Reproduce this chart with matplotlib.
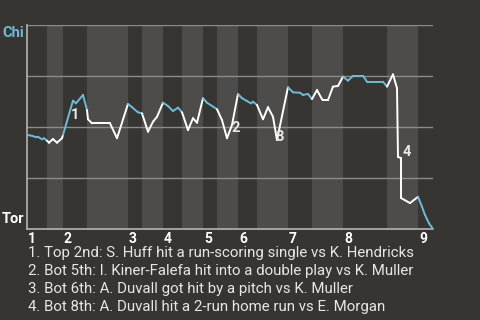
import matplotlib.pyplot as plt
import numpy as np

# game progress (arbitrary play units) and Chicago win probability (%)
progress = [0, 5, 9, 11, 15, 17, 20, 22, 26, 30, 35, 36, 46, 49, 56, 60,
            61, 65, 83, 90, 101, 105, 111, 115, 121, 126, 130, 136, 141, 146,
            151, 155, 161, 166, 170, 176, 180, 186, 190, 195, 200, 205, 211,
            215, 220, 224, 226, 230, 236, 241, 246, 250, 261, 266, 273, 276,
            281, 285, 290, 295, 296, 301, 306, 311, 316, 321, 326, 336, 340,
            356, 360, 366, 370, 371, 374, 374, 383, 391, 395, 398, 402, 406]
chi_wp = [46.1, 45.7, 45.0, 45.2, 44.0, 44.5, 43.3, 42.3, 44.1, 42.3, 44.5,
          46.1, 62.9, 61.6, 65.7, 58.3, 53.8, 51.8, 51.8, 44.5, 61.3, 59.7,
          57.2, 56.7, 47.7, 52.6, 55.0, 61.9, 60.3, 57.8, 59.5, 57.2, 48.5,
          54.3, 52.1, 64.1, 61.9, 60.0, 58.7, 53.4, 44.5, 51.0, 66.2, 64.1,
          62.7, 61.6, 62.4, 60.8, 53.8, 59.7, 55.0, 43.6, 69.5, 67.0, 66.8,
          65.7, 66.2, 63.7, 68.1, 63.6, 63.2, 63.2, 69.8, 70.1, 74.7, 72.7,
          75.1, 75.1, 72.2, 72.2, 69.8, 75.8, 69.0, 35.3, 34.8, 15.2, 12.7,
          15.8, 10.9, 6.9, 2.8, 0.0]

# half-inning boundaries (same units as progress)
half_starts = [0, 20, 36, 60, 101, 115, 136, 155, 176, 190, 211, 230, 261,
               285, 316, 360, 391, 406]
inning_labels = ['1', '2', '3', '4', '5', '6', '7', '8', '9']

# key plays: index into progress
key_idx = [12, 40, 51, 73]
key_text = ['1', '2', '3', '4']
notes = ["1. Top 2nd: S. Huff hit a run-scoring single vs K. Hendricks",
         "2. Bot 5th: I. Kiner-Falefa hit into a double play vs K. Muller",
         "3. Bot 6th: A. Duvall got hit by a pitch vs K. Muller",
         "4. Bot 8th: A. Duvall hit a 2-run home run vs E. Morgan"]

bg = '#373532'
band = '#4d4c4a'
blue = '#6cbcd8'

plt.rcParams['font.family'] = ['Roboto', 'DejaVu Sans']
fig = plt.figure(figsize=(4.8, 3.2), dpi=100, facecolor=bg)
ax = fig.add_axes([27 / 480, 1 - 229 / 320, 406 / 480, 204 / 320])
ax.set_facecolor(bg)

# alternating half-inning bands
for i in range(len(half_starts) - 1):
    if i % 2 == 1:
        ax.axvspan(half_starts[i], half_starts[i + 1], color=band, lw=0, zorder=0)

for g in [25, 50, 75, 100]:
    ax.axhline(g, color='#8c8b88', lw=1, zorder=1)

# line coloured by batting team (top halves blue = Chi)
x = np.array(progress, dtype=float)
y = np.array(chi_wp)
for k in range(len(x) - 1):
    mid = (x[k] + x[k + 1]) / 2
    half = np.searchsorted(half_starts, mid, side='right') - 1
    c = blue if half % 2 == 0 else 'white'
    ax.plot(x[k:k + 2], y[k:k + 2], color=c, lw=1.4, zorder=3,
            solid_capstyle='round')

offsets = [(1.5, -10), (6, 7), (2, 2), (6, 3.5)]
for idx, t, off in zip(key_idx, key_text, offsets):
    ax.annotate(t, (x[idx], y[idx]), xytext=off, textcoords='offset points',
                color='#e8e8e8', fontsize=10.5, fontweight='bold',
                ha='center', va='center', zorder=4)

ax.set_xlim(0, 406)
ax.set_ylim(0, 100)
ax.set_xticks([])
ax.set_yticks([])
for s in ['top', 'right']:
    ax.spines[s].set_visible(False)
for s in ['left', 'bottom']:
    ax.spines[s].set_color('#b5b4b0')
    ax.spines[s].set_linewidth(1.2)

for lab, pos in zip(inning_labels, half_starts[0::2]):
    ax.text(pos + 1, -1.5, lab, color='white', fontsize=10, fontweight='bold',
            ha='left', va='top')

ax.text(-3, 96, 'Chi', color=blue, fontsize=10.5, fontweight='bold',
        ha='right', va='center')
ax.text(-3, 5, 'Tor', color='white', fontsize=10.5, fontweight='bold',
        ha='right', va='center')

for i, n in enumerate(notes):
    fig.text(28 / 480, 1 - (253 + 18 * i) / 320, n, color='#e6e6e6',
             fontsize=10.8, ha='left', va='center')

fig.savefig('out.png', dpi=100, facecolor=bg)
